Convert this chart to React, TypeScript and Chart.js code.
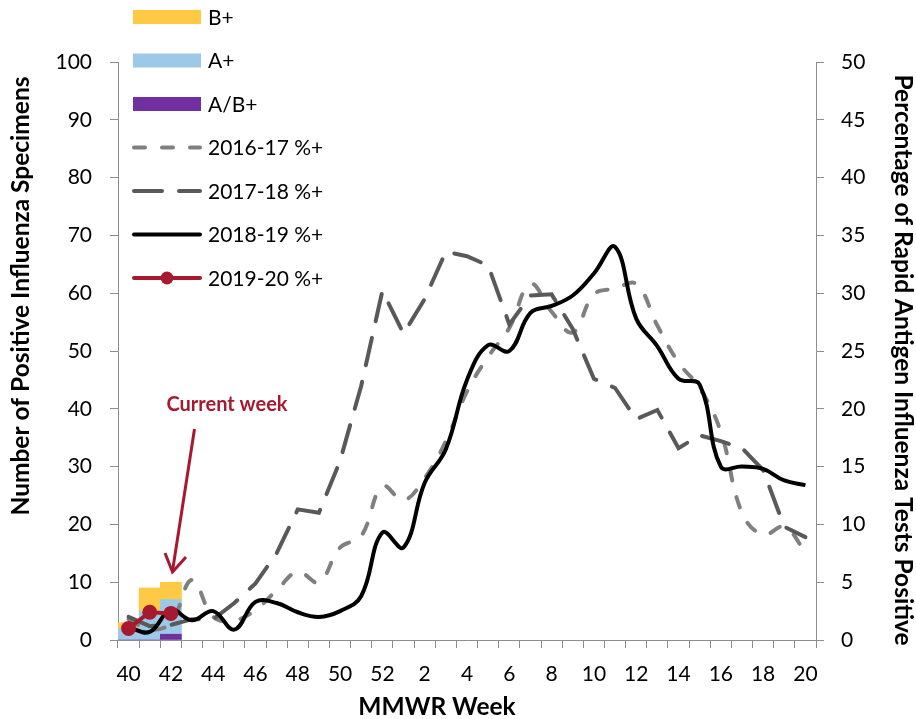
import React, { useEffect, useRef } from "react";
import { Chart, registerables } from "chart.js";

Chart.register(...registerables);

const weeks = ["40","41","42","43","44","45","46","47","48","49","50","51","52","1","2","3","4","5","6","7","8","9","10","11","12","13","14","15","16","17","18","19","20"];

const abPos = [0, 0, 1];
const aPos = [2, 5, 6];
const bPos = [1, 4, 3];

const pct1617 = [1.8,0.9,1.5,5.2,2.0,1.7,2.6,4.3,5.9,5.0,8.0,9.0,13.3,12.1,14.0,17.2,21.5,24.5,27.0,30.8,28.4,26.6,29.9,30.4,30.8,27.2,24.0,21.8,18.0,11.0,9.1,9.8,7.6];
const pct1718 = [2.0,1.2,1.3,1.8,1.8,3.2,4.9,7.5,11.3,11.0,15.5,22.0,30.2,26.5,29.5,33.6,33.2,32.4,27.3,29.8,29.9,26.9,22.6,21.8,19.1,19.9,16.6,17.7,17.2,16.6,14.7,9.8,8.9];
const pct1819 = [1.1,0.7,2.6,1.7,2.5,0.9,3.3,3.2,2.4,2.0,2.5,3.8,9.3,8.0,13.6,16.5,22.5,25.5,25.0,28.3,28.9,29.8,31.7,34.0,27.8,25.4,22.6,22.1,15.0,15.0,14.8,13.8,13.4];
const pct1920 = [1.0, 2.4, 2.3];

const leftTitle = "Number of Positive Influenza Specimens";
const rightTitle = "Percentage of Rapid Antigen Influenza Tests Positive";
const xTitle = "MMWR Week";
const annotationText = "Current week";

const C_B = "#FFC845";
const C_A = "#9DC9E8";
const C_AB = "#7030A0";
const C_1617 = "#808080";
const C_1718 = "#595959";
const C_1819 = "#000000";
const C_1920 = "#A6192E";
const AXIS = "#8c8c8c";
const FONT = "Lato, 'Open Sans', sans-serif";

const pad = (arr: number[]) => weeks.map((_, i) => (i < arr.length ? arr[i] : null));

const legendItems = [
  { label: "B+", kind: "bar", color: C_B },
  { label: "A+", kind: "bar", color: C_A },
  { label: "A/B+", kind: "bar", color: C_AB },
  { label: "2016-17 %+", kind: "line", color: C_1617, dash: [11, 17] },
  { label: "2017-18 %+", kind: "line", color: C_1718, dash: [28, 17] },
  { label: "2018-19 %+", kind: "line", color: C_1819, dash: [] },
  { label: "2019-20 %+", kind: "marker", color: C_1920, dash: [] },
];

const overlayPlugin = {
  id: "overlay",
  afterDraw(chart: any) {
    const ctx = chart.ctx;
    ctx.save();
    // custom legend
    const x0 = 133, x1 = 201, tx = 208;
    legendItems.forEach((it: any, i: number) => {
      const cy = 17 + i * 43.5;
      if (it.kind === "bar") {
        ctx.fillStyle = it.color;
        ctx.fillRect(x0, cy - 7, x1 - x0, 14);
      } else {
        ctx.strokeStyle = it.color;
        ctx.lineWidth = 4;
        ctx.lineCap = "round";
        ctx.setLineDash(it.dash);
        ctx.beginPath();
        ctx.moveTo(x0 + 1, cy);
        ctx.lineTo(x1 - 1, cy);
        ctx.stroke();
        ctx.setLineDash([]);
        if (it.kind === "marker") {
          ctx.fillStyle = it.color;
          ctx.beginPath();
          ctx.arc((x0 + x1) / 2, cy, 6.5, 0, Math.PI * 2);
          ctx.fill();
        }
      }
      ctx.fillStyle = "#000";
      ctx.font = `21px ${FONT}`;
      ctx.textAlign = "left";
      ctx.textBaseline = "middle";
      ctx.fillText(it.label, tx, cy + 1);
    });

    // axis titles
    ctx.font = `bold 24.5px ${FONT}`;
    ctx.fillStyle = "#000";
    ctx.textAlign = "center";
    ctx.textBaseline = "middle";
    ctx.save();
    ctx.translate(21, 296);
    ctx.rotate(-Math.PI / 2);
    ctx.fillText(leftTitle, 0, 0);
    ctx.restore();
    ctx.save();
    ctx.translate(903, 360);
    ctx.rotate(Math.PI / 2);
    ctx.fillText(rightTitle, 0, 0);
    ctx.restore();
    ctx.fillText(xTitle, 437, 707);

    // current week annotation
    ctx.fillStyle = C_1920;
    ctx.font = `bold 20px ${FONT}`;
    ctx.fillText(annotationText, 227, 405);
    ctx.strokeStyle = C_1920;
    ctx.lineWidth = 3;
    ctx.lineCap = "butt";
    ctx.beginPath();
    ctx.moveTo(194.5, 429);
    ctx.lineTo(172.5, 571);
    ctx.stroke();
    ctx.beginPath();
    ctx.moveTo(165, 553);
    ctx.lineTo(172.5, 572);
    ctx.lineTo(186, 557);
    ctx.stroke();
    ctx.restore();
  },
};

export default function App() {
  const ref = useRef<HTMLCanvasElement>(null);
  useEffect(() => {
    if (!ref.current) return;
    const tickFont = { family: FONT, size: 21 };
    const chart = new Chart(ref.current, {
      type: "bar",
      data: {
        labels: weeks,
        datasets: [
          { type: "line", label: "2019-20 %+", data: pad(pct1920), yAxisID: "y1", borderColor: C_1920, backgroundColor: C_1920, borderWidth: 4, pointRadius: 7.5, pointBackgroundColor: C_1920, pointBorderWidth: 0, tension: 0, order: 0 } as any,
          { type: "line", label: "2018-19 %+", data: pct1819, yAxisID: "y1", borderColor: C_1819, borderWidth: 4, pointRadius: 0, tension: 0.4, order: 1 } as any,
          { type: "line", label: "2017-18 %+", data: pct1718, yAxisID: "y1", borderColor: C_1718, borderWidth: 4, pointRadius: 0, tension: 0, borderDash: [28, 17], borderCapStyle: "round", order: 2 } as any,
          { type: "line", label: "2016-17 %+", data: pct1617, yAxisID: "y1", borderColor: C_1617, borderWidth: 4, pointRadius: 0, tension: 0.4, borderDash: [11, 17], borderCapStyle: "round", order: 3 } as any,
          { type: "bar", label: "A/B+", data: pad(abPos), yAxisID: "y", backgroundColor: C_AB, barPercentage: 1, categoryPercentage: 1, order: 10 } as any,
          { type: "bar", label: "A+", data: pad(aPos), yAxisID: "y", backgroundColor: C_A, barPercentage: 1, categoryPercentage: 1, order: 10 } as any,
          { type: "bar", label: "B+", data: pad(bPos), yAxisID: "y", backgroundColor: C_B, barPercentage: 1, categoryPercentage: 1, order: 10 } as any,
        ],
      },
      options: {
        animation: false,
        responsive: false,
        layout: { padding: { top: 62, left: 0, right: 0, bottom: 0 } },
        plugins: { legend: { display: false }, tooltip: { enabled: false } },
        scales: {
          x: {
            stacked: true,
            offset: true,
            grid: { offset: true, drawOnChartArea: false, drawTicks: true, tickLength: 8, color: AXIS },
            border: { color: AXIS, width: 1 },
            ticks: { autoSkip: false, maxRotation: 0, padding: 14, color: "#000", font: tickFont, callback: (_v: any, i: number) => (i % 2 === 0 ? weeks[i] : "") },
            afterFit: (s: any) => { s.height = 79; },
          },
          y: {
            stacked: true,
            position: "left",
            min: 0, max: 100,
            grid: { drawOnChartArea: false, tickLength: 8, color: AXIS },
            border: { color: AXIS, width: 1 },
            ticks: { stepSize: 10, padding: 18, color: "#000", font: tickFont },
            afterFit: (s: any) => { s.width = 118; },
          },
          y1: {
            position: "right",
            min: 0, max: 50,
            grid: { drawOnChartArea: false, tickLength: 8, color: AXIS },
            border: { color: AXIS, width: 1 },
            ticks: { stepSize: 5, padding: 17, color: "#000", font: tickFont },
            afterFit: (s: any) => { s.width = 100; },
          },
        },
      } as any,
      plugins: [overlayPlugin],
    });
    return () => chart.destroy();
  }, []);
  return (
    <div style={{ position: "fixed", left: 0, top: 0, width: 916, height: 719, background: "#fff" }}>
      <canvas ref={ref} width={916} height={719} style={{ display: "block" }} />
    </div>
  );
}
